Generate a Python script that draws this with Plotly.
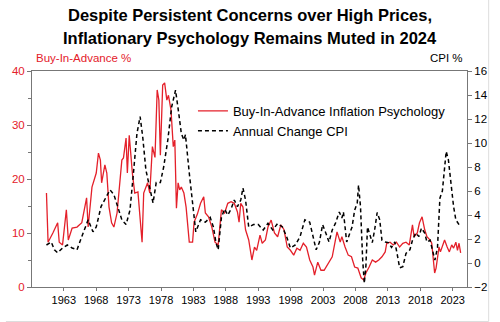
import plotly.graph_objects as go

# Buy-In-Advance inflation psychology (% , left axis)
bia_year = [1960.33, 1960.58, 1961.32, 1962.06, 1962.30, 1962.81, 1963.40, 1963.70, 1964.29, 1965.04,
            1965.78, 1966.52, 1966.76, 1967.35, 1968.01, 1968.35, 1968.65, 1968.84, 1969.34, 1969.64,
            1969.98, 1970.38, 1970.73, 1971.22, 1971.96, 1972.21, 1972.61, 1972.81, 1973.10, 1973.30,
            1973.59, 1973.95, 1974.44, 1975.08, 1975.33, 1975.93, 1976.27, 1976.67, 1977.07, 1977.41,
            1977.67, 1977.90, 1978.26, 1978.56, 1978.90, 1979.15, 1979.54, 1979.89, 1980.13, 1980.38,
            1980.64, 1980.88, 1981.13, 1981.53, 1981.87, 1982.36, 1982.87, 1983.10, 1983.61, 1984.10,
            1984.59, 1984.84, 1985.33, 1985.84, 1986.33, 1986.82, 1987.32, 1987.81, 1988.30, 1988.81,
            1989.30, 1989.79, 1990.04, 1990.30, 1990.64, 1991.04, 1991.53, 1992.02, 1992.42, 1992.76,
            1993.27, 1993.61, 1994.10, 1994.50, 1994.99, 1995.50, 1995.99, 1996.48, 1996.98, 1997.47,
            1997.96, 1998.47, 1998.96, 1999.45, 1999.95, 2000.44, 2000.94, 2001.44, 2001.68, 2002.18,
            2002.67, 2003.16, 2003.91, 2004.41, 2004.90, 2005.15, 2005.64, 2005.90, 2006.39, 2006.88,
            2007.38, 2007.87, 2008.36, 2008.87, 2009.26, 2009.61, 2010.10, 2010.59, 2011.10, 2011.59,
            2012.08, 2012.58, 2012.82, 2013.33, 2013.82, 2014.31, 2014.81, 2015.30, 2015.79, 2016.30,
            2016.79, 2017.04, 2017.53, 2017.87, 2018.27, 2018.68, 2019.02, 2019.51, 2019.76, 2019.98,
            2020.21, 2020.43, 2020.65, 2020.88, 2021.10, 2021.35, 2021.74, 2022.14, 2022.48, 2022.84,
            2023.13, 2023.48, 2023.73, 2023.97, 2024.22]
bia_value = [17.4, 8.3, 10.0, 11.9, 8.3, 7.8, 14.3, 8.7, 10.9, 11.1,
             11.9, 16.5, 11.1, 18.5, 21.1, 24.8, 23.5, 19.3, 22.6, 21.1,
             14.8, 11.9, 11.1, 13.7, 23.5, 23.9, 27.6, 21.1, 28.1, 24.8,
             21.0, 17.4, 17.6, 8.3, 17.4, 19.3, 17.4, 26.0, 24.0, 36.5,
             34.6, 24.4, 37.4, 37.8, 34.6, 35.5, 32.8, 26.0, 27.2, 14.6,
             19.3, 18.0, 18.5, 17.4, 14.8, 8.3, 8.3, 12.0, 13.5, 15.5,
             16.7, 13.7, 13.0, 11.1, 8.3, 7.8, 14.3, 13.7, 15.5, 15.8,
             15.5, 13.9, 12.0, 15.5, 14.8, 10.6, 8.7, 5.0, 7.4, 6.8,
             9.6, 8.1, 8.7, 11.1, 12.4, 10.0, 9.3, 11.5, 10.6, 7.4,
             6.8, 5.9, 7.2, 6.8, 8.1, 7.4, 5.0, 3.7, 2.2, 4.6,
             3.1, 3.1, 4.6, 5.6, 8.7, 10.2, 8.3, 9.3, 7.4, 5.9,
             5.6, 3.7, 3.5, 1.7, 1.3, 2.6, 3.7, 5.0, 4.6, 5.0,
             5.6, 6.5, 8.1, 8.3, 7.8, 8.3, 7.4, 8.1, 8.3, 7.8,
             11.5, 9.3, 10.0, 11.9, 13.0, 10.6, 9.3, 8.7, 8.1, 4.6,
             2.6, 3.5, 5.6, 7.4, 6.5, 7.4, 8.7, 7.4, 6.5, 7.8,
             7.2, 8.3, 6.8, 8.1, 6.3]

# Annual change CPI (%, right axis)
cpi_year = [1960.33, 1961.07, 1961.56, 1962.06, 1962.81, 1963.55, 1964.29, 1965.04, 1965.78, 1966.76,
            1967.50, 1968.01, 1968.75, 1969.49, 1970.13, 1970.73, 1971.47, 1971.96, 1972.61, 1973.21,
            1973.70, 1974.29, 1974.78, 1975.18, 1975.67, 1976.27, 1976.77, 1977.26, 1977.90, 1978.41,
            1979.05, 1979.64, 1980.24, 1980.73, 1981.13, 1981.53, 1981.77, 1982.36, 1982.87, 1983.36,
            1984.10, 1984.84, 1985.59, 1986.08, 1986.48, 1986.82, 1987.32, 1987.81, 1988.30, 1988.81,
            1989.30, 1989.79, 1990.30, 1990.64, 1991.04, 1991.53, 1992.27, 1993.01, 1993.76, 1994.50,
            1995.24, 1995.99, 1996.73, 1997.37, 1997.96, 1998.71, 1999.45, 2000.19, 2000.94, 2001.44,
            2001.93, 2002.42, 2002.93, 2003.42, 2003.91, 2004.41, 2004.90, 2005.50, 2005.90, 2006.14,
            2006.64, 2007.13, 2007.47, 2007.87, 2008.27, 2008.47, 2008.77, 2009.11, 2009.36, 2009.61,
            2009.85, 2010.25, 2010.59, 2010.95, 2011.34, 2011.74, 2012.08, 2012.58, 2013.07, 2013.56,
            2014.07, 2014.41, 2014.81, 2015.30, 2015.79, 2016.39, 2016.79, 2017.28, 2017.78, 2018.17,
            2018.68, 2019.02, 2019.51, 2019.86, 2020.25, 2020.65, 2021.02, 2021.40, 2021.69, 2021.99,
            2022.33, 2022.73, 2023.13, 2023.48, 2023.97, 2024.22]
cpi_value = [1.5, 1.75, 1.1, 0.85, 1.25, 1.5, 1.25, 1.1, 2.2, 3.6,
             2.6, 3.0, 4.7, 5.5, 6.1, 5.7, 4.4, 3.6, 3.2, 4.4,
             7.2, 10.8, 12.2, 10.5, 7.75, 6.1, 5.0, 6.7, 6.7, 8.0,
             10.25, 13.0, 14.4, 12.5, 10.8, 10.25, 10.7, 7.5, 4.7, 2.6,
             3.6, 3.4, 3.8, 3.0, 1.7, 1.1, 3.8, 4.5, 4.0, 4.5,
             5.25, 4.7, 5.25, 6.25, 5.25, 3.0, 3.2, 3.2, 2.75, 3.3,
             2.75, 3.3, 3.0, 2.2, 1.25, 1.5, 2.2, 3.6, 3.4, 2.2,
             1.1, 1.7, 3.2, 2.5, 1.75, 2.75, 3.3, 4.25, 3.75, 4.25,
             1.75, 2.5, 3.0, 4.4, 5.0, 6.5, 4.7, 0.25, -1.7, -0.2,
             3.0, 2.3, 1.7, 2.75, 4.2, 3.6, 1.9, 1.75, 1.7, 1.3,
             1.75, 0.8, -0.4, -0.3, 0.8, 1.1, 1.9, 2.5, 2.2, 2.9,
             2.5, 1.75, 1.9, 1.1, 0.25, 1.3, 5.4, 6.0, 7.8, 9.3,
             8.6, 6.7, 4.7, 3.6, 3.2, 3.3]

x_ticks = list(range(1963, 2024, 5))
title_lines = ["Despite Persistent Concerns over High Prices,",
               "Inflationary Psychology Remains Muted in 2024"]

RED = "#e4202a"
AXIS = "#777777"
FONT = "Arial, Liberation Sans, sans-serif"

fig = go.Figure()
fig.add_trace(go.Scatter(x=bia_year, y=bia_value, mode="lines",
                         name="Buy-In-Advance Inflation Psychology",
                         line=dict(color=RED, width=1.3), yaxis="y"))
fig.add_trace(go.Scatter(x=cpi_year, y=cpi_value, mode="lines",
                         name="Annual Change CPI",
                         line=dict(color="black", width=1.5, dash="4px,3px"), yaxis="y2"))

title_ann = [
    dict(text="<b>" + line + "</b>", xref="paper", yref="paper", x=0.5, y=yv,
         xanchor="center", yanchor="middle", showarrow=False,
         font=dict(family=FONT, size=16.5, color="black"))
    for line, yv in zip(title_lines, [1.259, 1.153])
]

fig.update_layout(
    width=500, height=322,
    margin=dict(l=25, r=23, t=71, b=35),
    paper_bgcolor="white", plot_bgcolor="white",
    font=dict(family=FONT, size=11, color="black"),
    showlegend=True,
    legend=dict(x=0.37, y=0.885, xanchor="left", yanchor="top",
                bgcolor="rgba(0,0,0,0)", font=dict(family=FONT, size=13, color="black"),
                tracegroupgap=0, itemwidth=30),
    xaxis=dict(range=[1958.1, 2025.2], tickvals=x_ticks, ticktext=[str(v) for v in x_ticks],
               showline=True, linecolor=AXIS, linewidth=1, mirror=True,
               ticks="outside", ticklen=3, tickcolor=AXIS, showgrid=False, zeroline=False,
               tickfont=dict(size=11, color="black")),
    yaxis=dict(range=[0, 40], dtick=10, showline=True, linecolor=AXIS, linewidth=1,
               ticks="outside", ticklen=4, tickcolor=AXIS, showgrid=False, zeroline=False,
               tickfont=dict(size=11.5, color=RED),
               minor=dict(dtick=5, ticks="outside", ticklen=3, tickcolor=AXIS)),
    yaxis2=dict(range=[-2, 16], dtick=2, overlaying="y", side="right",
                showline=True, linecolor=AXIS, linewidth=1,
                ticks="outside", ticklen=4, tickcolor=AXIS, showgrid=False, zeroline=False,
                tickfont=dict(size=11.5, color="black")),
    annotations=title_ann + [
        dict(text="Buy-In-Advance %", xref="paper", yref="paper", x=0.004, y=1.06,
             xanchor="left", yanchor="middle", showarrow=False,
             font=dict(family=FONT, size=11.5, color=RED)),
        dict(text="CPI %", xref="paper", yref="paper", x=0.996, y=1.06,
             xanchor="right", yanchor="middle", showarrow=False,
             font=dict(family=FONT, size=11.5, color="black")),
    ],
    shapes=[
        dict(type="line", xref="paper", yref="paper", x0=-0.06, x1=1.0498, y0=-0.1597, y1=-0.1597,
             line=dict(color="#dddddd", width=1)),
        dict(type="line", xref="paper", yref="paper", x0=1.0498, x1=1.0498, y0=-0.1597, y1=1.33,
             line=dict(color="#dddddd", width=1)),
    ],
)

fig.write_html("out.html")
